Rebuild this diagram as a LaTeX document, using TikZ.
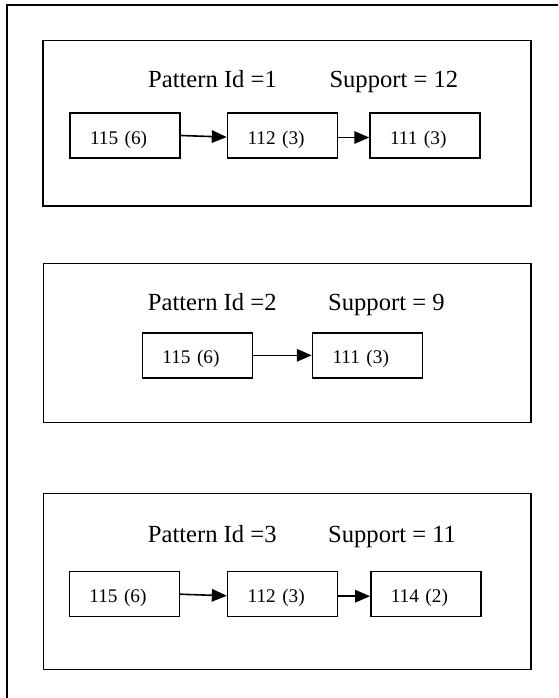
\documentclass[tikz,border=0pt]{standalone}
\usepackage{fontspec}
\setmainfont{Liberation Serif}
\usetikzlibrary{arrows.meta}

\tikzset{
  frameline/.style={line width=1.5pt},
  panel/.style={draw, line width=1.5pt},
  heading/.style={anchor=base west, inner sep=0pt,
    font=\fontsize{24.6}{29}\selectfont},
  itembox/.style={draw, line width=1.5pt, minimum width=110pt,
    minimum height=45pt, inner xsep=20pt, inner ysep=0pt,
    text width=70pt, align=left, text height=31pt, text depth=14pt,
    font=\fontsize{19.3}{23}\selectfont},
  link/.style={line width=1.6pt, -{Triangle[length=15pt,width=12.5pt]}}
}

\begin{document}
\begin{tikzpicture}[x=1pt, y=-1pt]
  \useasboundingbox (0,0) rectangle (558,698);

  % outer frame (only top and left edges on the page)
  \draw[frameline] (7,698) -- (7,5) -- (558,5);

  % pattern 1
  \draw[panel] (43,40.7) rectangle (531,206);
  \node[heading] (h1) at (148,87.7) {Pattern Id =1};
  \node[heading] (s1) at (329.3,87.7) {Support = 12};
  \node[itembox] (a1) at (125,135.5) {115 (6)};
  \node[itembox] (b1) at (282.5,135.5) {112 (3)};
  \node[itembox] (c1) at (425,135.5) {111 (3)};
  \draw[link] (a1.east) -- ([yshift=-1.6pt]b1.west);
  \draw[link] ([yshift=-2pt]b1.east) -- ([yshift=-2pt]c1.west);

  % pattern 2
  \draw[panel] (43.5,263.3) rectangle (531,422.3);
  \node[heading] (h2) at (147.7,310.7) {Pattern Id =2};
  \node[heading] (s2) at (328,310.7) {Support = 9};
  \node[itembox] (a2) at (197.4,355.3) {115 (6)};
  \node[itembox] (b2) at (367.5,355.3) {111 (3)};
  \draw[link] (a2.east) -- (b2.west);

  % pattern 3
  \draw[panel] (43.5,493.3) rectangle (531,669.5);
  \node[heading] (h3) at (147.7,542.7) {Pattern Id =3};
  \node[heading] (s3) at (328,542.7) {Support = 11};
  \node[itembox] (a3) at (124.4,594.2) {115 (6)};
  \node[itembox] (b3) at (282.6,594.2) {112 (3)};
  \node[itembox] (c3) at (425.8,594.2) {114 (2)};
  \draw[link] (a3.east) -- ([yshift=-1.6pt]b3.west);
  \draw[link] ([yshift=-2pt]b3.east) -- ([yshift=-2pt]c3.west);
\end{tikzpicture}
\end{document}
